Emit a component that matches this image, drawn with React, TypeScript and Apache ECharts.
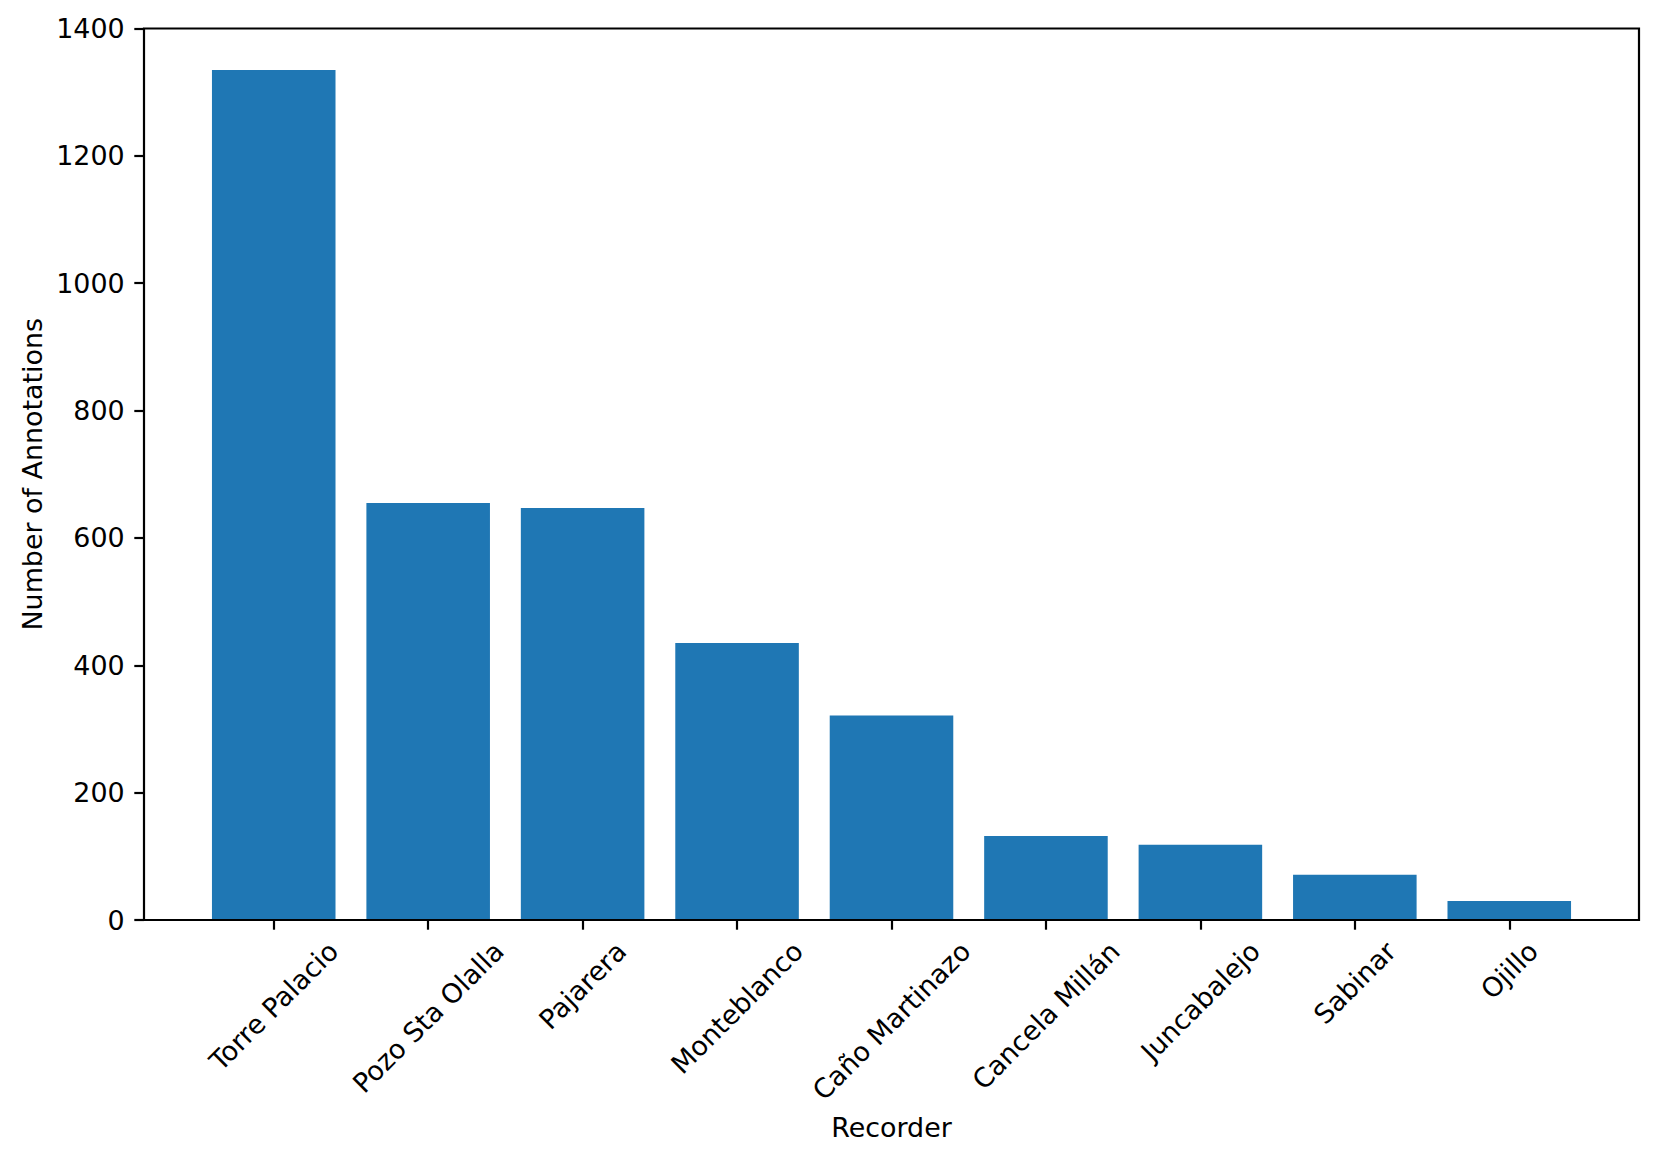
import React, { useEffect, useRef } from "react";
import * as echarts from "echarts";

const categories = [
  "Torre Palacio",
  "Pozo Sta Olalla",
  "Pajarera",
  "Monteblanco",
  "Caño Martinazo",
  "Cancela Millán",
  "Juncabalejo",
  "Sabinar",
  "Ojillo",
];
const counts = [1335, 655, 647, 435, 321, 132, 118, 71, 30];
const yTicks = { min: 0, max: 1400, interval: 200 };
const xTitle = "Recorder";
const yTitle = "Number of Annotations";

const FS = 26.9;
const FONT = "DejaVu Sans";
const PLOT = { left: 144, right: 1639, top: 28.5, bottom: 920 };
const LW = 2.2;
const TICK = 9.7;

export default function App() {
  const ref = useRef<HTMLDivElement>(null);
  useEffect(() => {
    if (!ref.current) return;
    const chart = echarts.init(ref.current, undefined, { renderer: "svg" });
    const plotW = PLOT.right - PLOT.left;
    const n = categories.length;
    const span = (n - 1 + 0.8) * 1.1;
    const bandPx = plotW / span;
    const margin = (span - n) / 2;
    const gridLeft = PLOT.left + margin * bandPx;
    const gridRight = PLOT.right - margin * bandPx;
    chart.setOption({
      animation: false,
      grid: {
        left: gridLeft,
        right: 1659 - gridRight,
        top: PLOT.top,
        bottom: 1162 - PLOT.bottom,
        containLabel: false,
      },
      xAxis: {
        type: "category",
        data: categories,
        axisLine: { show: false },
        axisTick: {
          show: true,
          alignWithLabel: true,
          length: TICK,
          lineStyle: { color: "#000", width: LW },
        },
        axisLabel: { show: false },
        splitLine: { show: false },
      },
      yAxis: {
        type: "value",
        min: yTicks.min,
        max: yTicks.max,
        interval: yTicks.interval,
        offset: gridLeft - PLOT.left,
        axisLine: { show: false },
        axisTick: {
          show: true,
          length: TICK,
          lineStyle: { color: "#000", width: LW },
        },
        axisLabel: {
          color: "#000",
          fontSize: FS,
          fontFamily: FONT,
          margin: TICK * 2,
          formatter: (v: number) => String(v),
        },
        splitLine: { show: false },
      },
      series: [
        {
          type: "bar",
          data: counts,
          barWidth: "80%",
          itemStyle: { color: "#1f77b4" },
        },
      ],
    });

    const ctx = document.createElement("canvas").getContext("2d")!;
    ctx.font = `${FS}px "${FONT}"`;
    const h = FS * 1.16;
    const s = Math.SQRT1_2;
    const labelEls = categories.map((c, i) => {
      const x = chart.convertToPixel({ xAxisIndex: 0 }, i) as number;
      const L = ctx.measureText(c).width;
      const bboxH = (L + h) * s;
      const top = PLOT.bottom + TICK + TICK - 4;
      return {
        type: "text",
        x,
        y: top + bboxH / 2,
        rotation: Math.PI / 4,
        style: {
          text: c,
          font: `${FS}px "${FONT}"`,
          fill: "#000",
          align: "center",
          verticalAlign: "middle",
        },
      };
    });

    chart.setOption({
      graphic: [
        {
          type: "rect",
          shape: {
            x: PLOT.left,
            y: PLOT.top,
            width: PLOT.right - PLOT.left,
            height: PLOT.bottom - PLOT.top,
          },
          style: { fill: "none", stroke: "#000", lineWidth: LW },
          z: 10,
        },
        ...labelEls,
        {
          type: "text",
          x: (PLOT.left + PLOT.right) / 2,
          y: 1127,
          style: {
            text: xTitle,
            font: `${FS}px "${FONT}"`,
            fill: "#000",
            align: "center",
            verticalAlign: "middle",
          },
        },
        {
          type: "text",
          x: 32,
          y: (PLOT.top + PLOT.bottom) / 2,
          rotation: Math.PI / 2,
          style: {
            text: yTitle,
            font: `${FS}px "${FONT}"`,
            fill: "#000",
            align: "center",
            verticalAlign: "middle",
          },
        },
      ],
    });
    return () => chart.dispose();
  }, []);
  return (
    <div
      ref={ref}
      style={{ position: "fixed", left: 0, top: 0, width: 1659, height: 1162, background: "#fff" }}
    />
  );
}
